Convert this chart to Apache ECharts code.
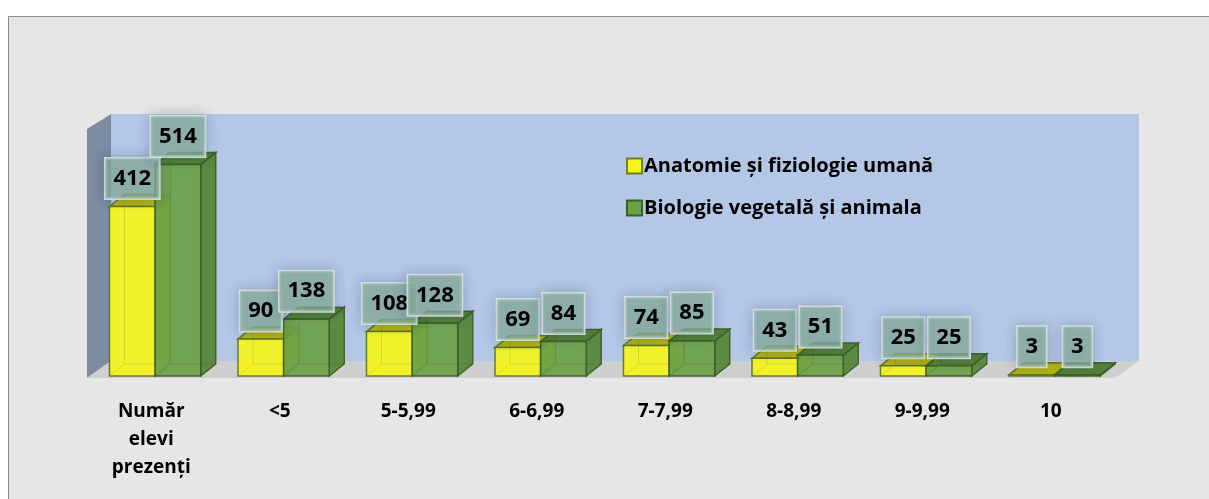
<!DOCTYPE html>
<html>
<head>
<meta charset="utf-8">
<script src="https://cdn.jsdelivr.net/npm/echarts@6/dist/echarts.min.js"></script>
<style>
    html, body { margin: 0; padding: 0; background: #ffffff; }
    #chart { width: 1209px; height: 499px; }
</style>
</head>
<body>
<div id="chart"></div>
<script>
    // date
    const categories = ['Număr\nelevi\nprezenți', '<5', '5-5,99', '6-6,99', '7-7,99', '8-8,99', '9-9,99', '10'];
    const anatomie = [412, 90, 108, 69, 74, 43, 25, 3];
    const biologie = [514, 138, 128, 84, 85, 51, 25, 3];
    const seriesNames = ['Anatomie și fiziologie umană', 'Biologie vegetală și animala'];

    // adancimea peretilor si a barelor (efect 3D)
    const WALL_DX = 24, WALL_DY = -15;
    const BAR_DX = 15, BAR_DY = -12;
    const FONT = '"Open Sans"';

    const yellow = { front: '#f5f51c', top: '#b3b30c', side: '#c9c915', stroke: '#5a7424' };
    const green = { front: '#6b9f48', top: '#4f7c34', side: '#57873a', stroke: '#3c5f27' };

    function box(x0, x1, top, base, c) {
        const children = [];
        const hidden = function (op) {
            return [{
                type: 'polyline',
                shape: { points: [[x0, base], [x0 + BAR_DX, base + BAR_DY], [x1 + BAR_DX, base + BAR_DY]] },
                style: { stroke: c.stroke, lineWidth: 1, opacity: op, fill: null }
            }, {
                type: 'line',
                shape: { x1: x0 + BAR_DX, y1: base + BAR_DY, x2: x0 + BAR_DX, y2: top + BAR_DY },
                style: { stroke: c.stroke, lineWidth: 1, opacity: op }
            }];
        };
        children.push.apply(children, hidden(0.3));
        children.push({
            type: 'polygon',
            shape: { points: [[x1, top], [x1 + BAR_DX, top + BAR_DY], [x1 + BAR_DX, base + BAR_DY], [x1, base]] },
            style: { fill: c.side, stroke: c.stroke, lineWidth: 1.5, opacity: 0.95 }
        });
        children.push({
            type: 'polygon',
            shape: { points: [[x0, top], [x1, top], [x1 + BAR_DX, top + BAR_DY], [x0 + BAR_DX, top + BAR_DY]] },
            style: { fill: c.top, stroke: c.stroke, lineWidth: 1.5, opacity: 0.95 }
        });
        children.push({
            type: 'rect',
            shape: { x: x0, y: top, width: x1 - x0, height: base - top },
            style: { fill: c.front, stroke: c.stroke, lineWidth: 1.5, opacity: 0.92 }
        });
        // muchiile din spate se vad prin fata transparenta
        children.push.apply(children, hidden(0.18));
        return children;
    }

    function barItem(which) {
        return function (params, api) {
            const i = api.value(0);
            const v = api.value(1);
            const p0 = api.coord([i, 0]);
            const p1 = api.coord([i, v]);
            const band = api.size([1, 0])[0];
            const split = p0[0] + 0.03 * band;
            let x0, x1, c;
            if (which === 0) {
                x0 = p0[0] - 0.325 * band; x1 = split; c = yellow;
            } else {
                x0 = split; x1 = p0[0] + 0.385 * band; c = green;
            }
            return { type: 'group', children: box(x0, x1, p1[1], p0[1], c) };
        };
    }

    function labelBox(x, y, text) {
        return {
            type: 'text',
            x: x,
            y: y,
            style: {
                text: String(text),
                font: 'bold 22px ' + FONT,
                fill: '#000000',
                align: 'center',
                verticalAlign: 'bottom',
                backgroundColor: 'rgba(136,174,156,0.74)',
                borderColor: 'rgba(228,238,233,0.9)',
                borderWidth: 1.5,
                padding: [8, 8, 8, 8],
                lineHeight: 24,
                shadowBlur: 12,
                shadowColor: 'rgba(40,60,90,0.28)'
            }
        };
    }

    const chart = echarts.init(document.getElementById('chart'));

    const option = {
        animation: false,
        graphic: [{
            type: 'rect',
            z: -10,
            shape: { x: 8.5, y: 16.5, width: 1400, height: 600 },
            style: { fill: '#e6e6e6', stroke: '#8c8c8c', lineWidth: 1 }
        }],
        legend: {
            data: seriesNames,
            orient: 'vertical',
            left: 621,
            top: 151,
            itemWidth: 15,
            itemHeight: 15,
            itemGap: 22,
            icon: 'rect',
            textStyle: { fontFamily: FONT, fontWeight: 'bold', fontSize: 20, color: '#000000', padding: [0, 0, 0, -3] }
        },
        grid: { left: 87, right: 94, top: 129, bottom: 123 },
        xAxis: {
            type: 'category',
            data: categories,
            axisLine: { show: false },
            axisTick: { show: false },
            axisLabel: {
                margin: 22,
                fontFamily: FONT,
                fontWeight: 'bold',
                fontSize: 19,
                lineHeight: 28,
                color: '#000000',
                interval: 0
            }
        },
        yAxis: {
            type: 'value',
            min: 0,
            max: 600,
            show: false,
            splitLine: { show: false }
        },
        series: [
            {
                name: 'walls',
                type: 'custom',
                z: 1,
                silent: true,
                data: [[0, 0]],
                renderItem: function (params, api) {
                    const cs = params.coordSys;
                    const x0 = cs.x, x1 = cs.x + cs.width;
                    const yt = cs.y, yb = cs.y + cs.height;
                    return {
                        type: 'group',
                        children: [
                            {
                                type: 'rect',
                                shape: { x: x0 + WALL_DX, y: yt + WALL_DY, width: x1 - x0, height: yb - yt },
                                style: { fill: '#b4c7e7' }
                            },
                            {
                                type: 'polygon',
                                shape: { points: [[x0, yt], [x0 + WALL_DX, yt + WALL_DY], [x0 + WALL_DX, yb + WALL_DY], [x0, yb + 2]] },
                                style: { fill: '#7d8ca3' }
                            },
                            {
                                type: 'polygon',
                                shape: { points: [[x0, yb + 2], [x1, yb + 2], [x1 + WALL_DX, yb + WALL_DY], [x0 + WALL_DX, yb + WALL_DY]] },
                                style: { fill: '#d0cfcf' }
                            }
                        ]
                    };
                }
            },
            {
                name: seriesNames[0],
                type: 'custom',
                z: 2,
                itemStyle: { color: '#f5f51c', borderColor: '#6b7f28', borderWidth: 1.5 },
                data: anatomie.map((v, i) => [i, v]),
                renderItem: barItem(0)
            },
            {
                name: seriesNames[1],
                type: 'custom',
                z: 3,
                itemStyle: { color: '#6b9f48', borderColor: '#3c5f27', borderWidth: 1.5 },
                data: biologie.map((v, i) => [i, v]),
                renderItem: barItem(1)
            },
            {
                name: 'labels',
                type: 'custom',
                z: 5,
                silent: true,
                data: anatomie.map((v, i) => [i, v, biologie[i]]),
                renderItem: function (params, api) {
                    const i = api.value(0);
                    const a = api.value(1);
                    const b = api.value(2);
                    const band = api.size([1, 0])[0];
                    const c = api.coord([i, 0])[0];
                    const split = c + 0.03 * band;
                    const xa = (c - 0.325 * band + split) / 2;
                    const xb = (split + c + 0.385 * band) / 2;
                    return {
                        type: 'group',
                        children: [
                            labelBox(xa, api.coord([i, a])[1] - 8, a),
                            labelBox(xb, api.coord([i, b])[1] - 8, b)
                        ]
                    };
                }
            }
        ]
    };

    chart.setOption(option);
    window.addEventListener('resize', function () {
        chart.resize();
    });
</script>
</body>
</html>
